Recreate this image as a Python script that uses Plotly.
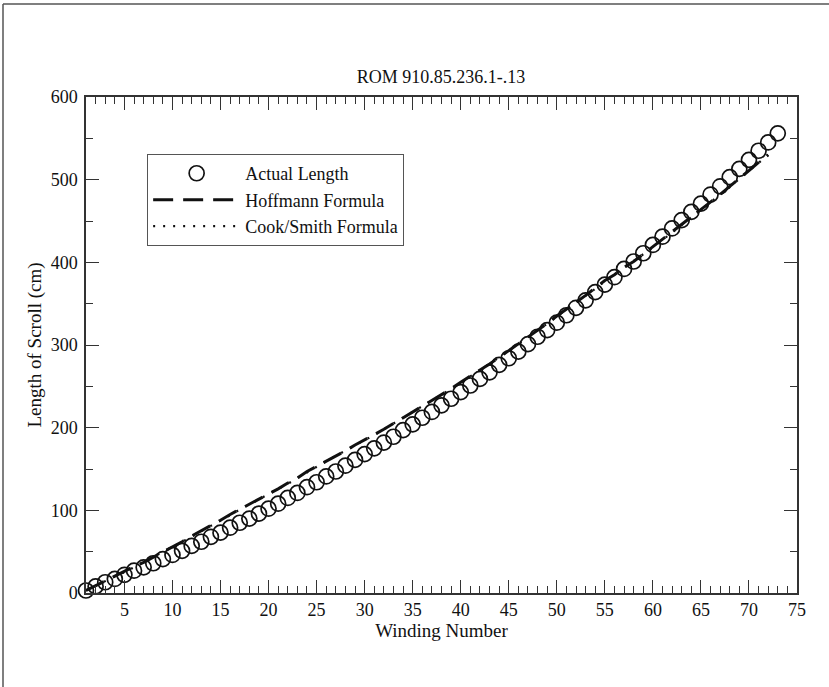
import plotly.graph_objects as go

# ---- data ----
winding = list(range(1, 74))
actual_length = [3, 8, 13, 17, 22, 27, 31, 36, 41, 46, 51, 57, 62, 68, 73, 79, 85, 90, 96, 102,
                 108, 115, 121, 128, 134, 141, 147, 154, 161, 168, 175, 182, 189, 197, 204, 212,
                 219, 227, 235, 243, 251, 259, 267, 276, 284, 292, 301, 310, 318, 327, 336, 345,
                 354, 364, 373, 382, 392, 401, 411, 421, 431, 441, 451, 461, 471, 482, 492, 503,
                 513, 524, 535, 545, 556]

formula_winding = list(range(1, 73))
hoffmann = [3, 9, 14, 20, 26, 32, 37, 43, 50, 56, 62, 69, 75, 82, 88, 95, 101, 107, 113, 119,
            126, 133, 139, 147, 153, 160, 166, 172, 179, 185, 192, 198, 205, 212, 218, 226,
            232, 240, 247, 255, 262, 270, 277, 285, 293, 301, 309, 318, 326, 335, 343, 352,
            360, 369, 378, 385, 394, 401, 410, 418, 427, 436, 445, 454, 463, 473, 482, 492,
            501, 511, 521, 530]
cook_smith = [3, 9, 14, 20, 25, 31, 37, 43, 49, 56, 62, 68, 75, 81, 88, 94, 101, 107, 113, 119,
              126, 132, 139, 146, 153, 159, 166, 172, 179, 185, 191, 198, 205, 211, 218, 225,
              232, 239, 247, 254, 262, 269, 277, 285, 293, 301, 309, 317, 326, 334, 343, 351,
              360, 368, 377, 385, 393, 401, 410, 418, 427, 436, 445, 454, 463, 472, 482, 491,
              501, 511, 521, 530]

title_text = "ROM 910.85.236.1-.13"
x_title = "Winding Number"
y_title = "Length of Scroll (cm)"

FONT = "Liberation Serif"
INK = "#111111"
AXIS = "#333333"

fig = go.Figure()
fig.add_trace(go.Scatter(
    x=winding, y=actual_length, mode="markers", name="Actual Length",
    marker=dict(symbol="circle-open", size=15, color=INK, line=dict(width=1.7, color=INK)),
    cliponaxis=False,
))
fig.add_trace(go.Scatter(
    x=formula_winding, y=hoffmann, mode="lines", name="Hoffmann Formula",
    line=dict(color=INK, width=3, dash="20px,10px"),
))
fig.add_trace(go.Scatter(
    x=formula_winding, y=cook_smith, mode="lines", name="Cook/Smith Formula",
    line=dict(color=INK, width=2.2, dash="2px,8px"),
))

axis_common = dict(
    showline=True, linecolor=AXIS, linewidth=1.5, mirror="allticks",
    ticks="inside", tickcolor=AXIS, tickwidth=1.3, ticklen=13,
    showgrid=False, zeroline=False, automargin=False,
    tickfont=dict(family=FONT, size=18, color=INK),
    title_font=dict(family=FONT, size=19, color=INK),
)

fig.update_xaxes(
    range=[1, 75], tick0=0, dtick=5,
    minor=dict(dtick=1, ticks="inside", ticklen=7, tickcolor=AXIS, tickwidth=1.2, showgrid=False),
    title_text=x_title, title_standoff=2,
    **axis_common,
)
fig.update_yaxes(
    range=[0, 600], tick0=0, dtick=100,
    minor=dict(dtick=50, ticks="inside", ticklen=7, tickcolor=AXIS, tickwidth=1.2, showgrid=False),
    title_text=y_title, title_standoff=4,
    ticklabelstandoff=3,
    **axis_common,
)

fig.update_layout(
    width=829, height=687,
    margin=dict(l=86, r=32, t=97, b=94),
    paper_bgcolor="white", plot_bgcolor="white",
    font=dict(family=FONT, color=INK),
    title=dict(text=title_text, x=441/829, xanchor="center", y=1-77/687, yanchor="middle",
               yref="container", font=dict(family=FONT, size=18, color=INK)),
    legend=dict(
        x=0.086, y=0.885, xanchor="left", yanchor="top",
        bgcolor="white", bordercolor="#555555", borderwidth=1,
        font=dict(family=FONT, size=18, color=INK),
        itemwidth=87, tracegroupgap=0,
    ),
    showlegend=True,
    shapes=[
        dict(type="line", xref="paper", yref="paper", x0=(3-86)/711, x1=(3-86)/711,
             y0=(593-687)/496, y1=(593-4)/496, line=dict(color="#555555", width=1.5)),
        dict(type="line", xref="paper", yref="paper", x0=(3-86)/711, x1=(829-86)/711,
             y0=(593-4)/496, y1=(593-4)/496, line=dict(color="#555555", width=1.5)),
    ],
)

fig.write_html("out.html", config={"displayModeBar": False},
               post_script="document.body.style.margin='0';")
